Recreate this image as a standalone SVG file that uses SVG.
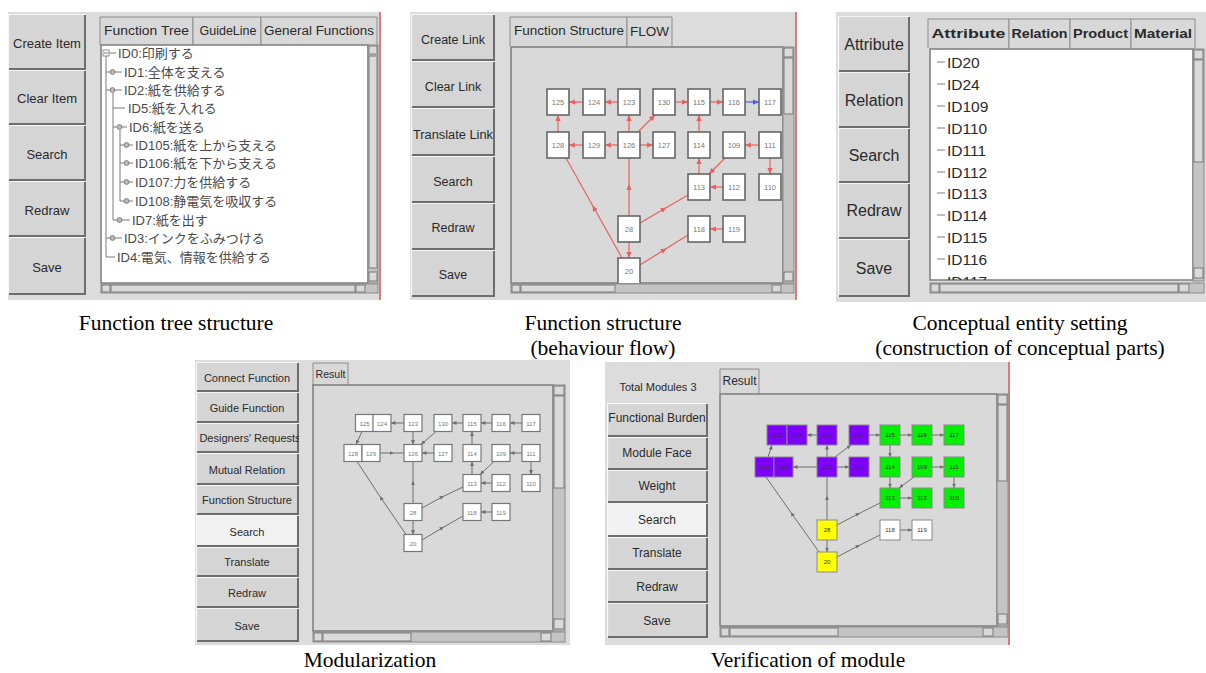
<svg xmlns="http://www.w3.org/2000/svg" width="1206" height="673" viewBox="0 0 1206 673">
<defs>
<style>
.pbg{fill:#dcdcdc}
.bf{fill:#d5d5d5}
.on{fill:#f1f1f1}
.bh{fill:none;stroke:#f7f7f7;stroke-width:1.2}
.bs{fill:none;stroke:#6d6d6d;stroke-width:2}
.tb{fill:#d8d8d8;stroke:#8c8c8c;stroke-width:1}
.area{fill:#d9d9d9;stroke:#7c7c7c;stroke-width:1.5}
.wh{fill:#ffffff;stroke:#7c7c7c;stroke-width:1.5}
.sb{fill:#c4c4c4;stroke:#8a8a8a;stroke-width:1}
.th{fill:#dadada;stroke:#7a7a7a;stroke-width:1}
.red{stroke:#e07a7a;stroke-width:2}
.ui{font-family:"Liberation Sans","DejaVu Sans",Arial,sans-serif;fill:#2a2a2a;text-anchor:middle}
.b1{font-size:13px}
.b2{font-size:12.5px}
.b3{font-size:16px}
.b4{font-size:11px}
.b5{font-size:12px}
.jp{font-family:"Liberation Sans","Noto Sans CJK JP",sans-serif;font-size:13px;fill:#4a4a4a}
.li{font-family:"Liberation Sans","DejaVu Sans",Arial,sans-serif;font-size:15.5px;fill:#2a2a2a}
.tl{fill:none;stroke:#7a7a7a;stroke-width:1}
.ic{fill:#bdbdbd;stroke:#6a6a6a;stroke-width:0.8}
.cap{font-family:"Liberation Serif","Times New Roman",serif;font-size:21.5px;fill:#000;text-anchor:middle}
.n2 rect{fill:#fff;stroke:#666;stroke-width:1.6}
.n2 text{font-family:"Liberation Sans",sans-serif;font-size:7.5px;fill:#777;text-anchor:middle}
.n4 rect{fill:#fff;stroke:#777;stroke-width:1.2}
.n4 text{font-family:"Liberation Sans",sans-serif;font-size:6px;fill:#777;text-anchor:middle}
.n5 rect{stroke:#8a8a8a;stroke-width:1}
.n5 text{font-family:"Liberation Sans",sans-serif;font-size:6px;fill:#333;text-anchor:middle}
.pu rect{fill:#7f00ff}
.gr rect{fill:#00f000}
.ye rect{fill:#ffff00}
.wt rect{fill:#ffffff}
.er{fill:none;stroke:#e86060;stroke-width:1.2;marker-end:url(#mr)}
.erm{fill:none;stroke:#e86060;stroke-width:1.2;marker-mid:url(#mrm)}
.eb{fill:none;stroke:#4a5cf0;stroke-width:1.2;marker-end:url(#mb)}
.eg{fill:none;stroke:#6e6e6e;stroke-width:1;marker-end:url(#mg)}
.egm{fill:none;stroke:#6e6e6e;stroke-width:1;marker-mid:url(#mgm)}
</style>
<marker id="mr" viewBox="0 0 8 8" refX="8" refY="4" markerWidth="6" markerHeight="6" markerUnits="userSpaceOnUse" orient="auto"><path d="M0,0.5 L8,4 L0,7.5 z" fill="#e86060"/></marker>
<marker id="mrm" viewBox="0 0 8 8" refX="4" refY="4" markerWidth="6" markerHeight="6" markerUnits="userSpaceOnUse" orient="auto"><path d="M0,0.5 L8,4 L0,7.5 z" fill="#e86060"/></marker>
<marker id="mb" viewBox="0 0 8 8" refX="8" refY="4" markerWidth="6" markerHeight="6" markerUnits="userSpaceOnUse" orient="auto"><path d="M0,0.5 L8,4 L0,7.5 z" fill="#4a5cf0"/></marker>
<marker id="mg" viewBox="0 0 8 8" refX="8" refY="4" markerWidth="4.5" markerHeight="4.5" markerUnits="userSpaceOnUse" orient="auto"><path d="M0,0.5 L8,4 L0,7.5 z" fill="#6e6e6e"/></marker>
<marker id="mgm" viewBox="0 0 8 8" refX="4" refY="4" markerWidth="4.5" markerHeight="4.5" markerUnits="userSpaceOnUse" orient="auto"><path d="M0,0.5 L8,4 L0,7.5 z" fill="#6e6e6e"/></marker>
<clipPath id="c1"><rect x="101" y="45" width="267" height="238"/></clipPath>
<clipPath id="c2"><rect x="511" y="47" width="272" height="236"/></clipPath>
<clipPath id="c3"><rect x="930" y="49" width="263" height="231"/></clipPath>
<clipPath id="c4"><rect x="196" y="362" width="103" height="280"/></clipPath>
</defs>
<rect width="1206" height="673" fill="#ffffff"/>

<!-- ============ Panel 1 : Function tree ============ -->
<g id="panel-function-tree">
<rect class="pbg" x="8" y="12" width="372" height="288"/>
<line class="red" x1="380" y1="12" x2="380" y2="300"/>
<g id="p1-btn-create"><rect class="bf" x="8" y="14" width="78" height="56"/><path class="bh" d="M8.5,69.5V14.5H85.5"/><path class="bs" d="M9,69H85V15"/><text class="ui b1" x="47" y="48">Create Item</text></g>
<g id="p1-btn-clear"><rect class="bf" x="8" y="70" width="78" height="55"/><path class="bh" d="M8.5,124.5V70.5H85.5"/><path class="bs" d="M9,124H85V71"/><text class="ui b1" x="47" y="103">Clear Item</text></g>
<g id="p1-btn-search"><rect class="bf" x="8" y="125" width="78" height="56"/><path class="bh" d="M8.5,180.5V125.5H85.5"/><path class="bs" d="M9,180H85V126"/><text class="ui b1" x="47" y="159">Search</text></g>
<g id="p1-btn-redraw"><rect class="bf" x="8" y="181" width="78" height="56"/><path class="bh" d="M8.5,236.5V181.5H85.5"/><path class="bs" d="M9,236H85V182"/><text class="ui b1" x="47" y="215">Redraw</text></g>
<g id="p1-btn-save"><rect class="bf" x="8" y="237" width="78" height="58"/><path class="bh" d="M8.5,294.5V237.5H85.5"/><path class="bs" d="M9,294H85V238"/><text class="ui b1" x="47" y="272">Save</text></g>
<g id="p1-tabs">
<path class="tb" d="M100,45V17H193V45"/><text class="ui b5" x="146.5" y="35" textLength="85" lengthAdjust="spacingAndGlyphs">Function Tree</text>
<path class="tb" d="M193,45V17H261V45"/><text class="ui b5" x="228" y="35" textLength="57" lengthAdjust="spacingAndGlyphs">GuideLine</text>
<path class="tb" d="M261,45V17H377V45"/><text class="ui b5" x="319" y="35" textLength="110" lengthAdjust="spacingAndGlyphs">General Functions</text>
</g>
<rect class="wh" x="101" y="45" width="267" height="238"/>
<g id="p1-tree" clip-path="url(#c1)">
<rect x="103" y="50" width="6" height="6" fill="#fff" stroke="#777" stroke-width="0.8"/><line class="tl" x1="104" y1="53" x2="108" y2="53"/>
<path class="tl" d="M109,53H116 M106,56V257 M106,72H110 M115,72H122 M106,90H110 M115,90H122 M113,93V220 M113,108H125 M113,127H117 M122,127H127 M120,130V201 M120,145H124 M129,145H133 M120,163H124 M129,163H133 M120,182H124 M129,182H133 M120,201H124 M129,201H133 M113,220H117 M122,220H130 M106,238H110 M115,238H122 M106,257H115"/>
<circle class="ic" cx="112.5" cy="72" r="2.4"/><circle class="ic" cx="112.5" cy="90" r="2.4"/><circle class="ic" cx="119.5" cy="127" r="2.4"/>
<circle class="ic" cx="126.5" cy="145" r="2.4"/><circle class="ic" cx="126.5" cy="163" r="2.4"/><circle class="ic" cx="126.5" cy="182" r="2.4"/><circle class="ic" cx="126.5" cy="201" r="2.4"/>
<circle class="ic" cx="119.5" cy="220" r="2.4"/><circle class="ic" cx="112.5" cy="238" r="2.4"/>
<text class="jp" x="118" y="57.5">ID0:印刷する</text>
<text class="jp" x="124" y="76.5">ID1:全体を支える</text>
<text class="jp" x="124" y="94.5">ID2:紙を供給する</text>
<text class="jp" x="128" y="112.5">ID5:紙を入れる</text>
<text class="jp" x="129" y="131.5">ID6:紙を送る</text>
<text class="jp" x="135" y="149.5">ID105:紙を上から支える</text>
<text class="jp" x="135" y="167.5">ID106:紙を下から支える</text>
<text class="jp" x="135" y="186.5">ID107:力を供給する</text>
<text class="jp" x="135" y="205.5">ID108:静電気を吸収する</text>
<text class="jp" x="132" y="224.5">ID7:紙を出す</text>
<text class="jp" x="124" y="242.5">ID3:インクをふみつける</text>
<text class="jp" x="117" y="261.5">ID4:電気、情報を供給する</text>
</g>
<g id="p1-scroll">
<rect class="sb" x="368" y="45" width="10" height="238"/><rect class="th" x="369" y="46" width="8" height="8"/><rect class="th" x="369" y="56" width="8" height="212"/><rect class="th" x="369" y="272" width="8" height="9"/>
<rect class="sb" x="101" y="284" width="277" height="9"/><rect class="th" x="102" y="285" width="8" height="7"/><rect class="th" x="111" y="285" width="244" height="7"/><rect class="th" x="356" y="285" width="9" height="7"/>
</g>
</g>

<!-- ============ Panel 2 : Function structure ============ -->
<g id="panel-function-structure">
<rect class="pbg" x="410" y="12" width="386" height="288"/>
<line class="red" x1="796" y1="12" x2="796" y2="300"/>
<g id="p2-btn-create"><rect class="bf" x="411" y="14" width="84" height="47"/><path class="bh" d="M411.5,60.5V14.5H494.5"/><path class="bs" d="M412,60H494V15"/><text class="ui b2" x="453" y="44">Create Link</text></g>
<g id="p2-btn-clear"><rect class="bf" x="411" y="61" width="84" height="47"/><path class="bh" d="M411.5,107.5V61.5H494.5"/><path class="bs" d="M412,107H494V62"/><text class="ui b2" x="453" y="91">Clear Link</text></g>
<g id="p2-btn-translate"><rect class="bf" x="411" y="108" width="84" height="48"/><path class="bh" d="M411.5,155.5V108.5H494.5"/><path class="bs" d="M412,155H494V109"/><text class="ui b2" x="453" y="139" textLength="80" lengthAdjust="spacingAndGlyphs">Translate Link</text></g>
<g id="p2-btn-search"><rect class="bf" x="411" y="156" width="84" height="47"/><path class="bh" d="M411.5,202.5V156.5H494.5"/><path class="bs" d="M412,202H494V157"/><text class="ui b2" x="453" y="186">Search</text></g>
<g id="p2-btn-redraw"><rect class="bf" x="411" y="203" width="84" height="47"/><path class="bh" d="M411.5,249.5V203.5H494.5"/><path class="bs" d="M412,249H494V204"/><text class="ui b2" x="453" y="232">Redraw</text></g>
<g id="p2-btn-save"><rect class="bf" x="411" y="250" width="84" height="47"/><path class="bh" d="M411.5,296.5V250.5H494.5"/><path class="bs" d="M412,296H494V251"/><text class="ui b2" x="453" y="279">Save</text></g>
<g id="p2-tabs">
<path class="tb" d="M510,46V17H627V46"/><text class="ui b5" x="569" y="35" textLength="110" lengthAdjust="spacingAndGlyphs">Function Structure</text>
<path class="tb" d="M627,46V17H672V46"/><text class="ui" x="649.5" y="36" font-size="13.5" textLength="39" lengthAdjust="spacingAndGlyphs">FLOW</text>
</g>
<rect class="area" x="511" y="47" width="272" height="236"/>
<g clip-path="url(#c2)">
<g id="p2-connectors">
<path class="er" d="M583,102L569,102"/>
<path class="er" d="M618,102L605,102"/>
<path class="er" d="M675,102L688,102"/>
<path class="er" d="M710,102L723,102"/>
<path class="eb" d="M745,102L759,102"/>
<path class="er" d="M558,132L558,115"/>
<path class="er" d="M583,145L569,145"/>
<path class="er" d="M618,145L605,145"/>
<path class="er" d="M640,145L653,145"/>
<path class="er" d="M629,132L629,115"/>
<path class="er" d="M638,132L655,115"/>
<path class="er" d="M699,132L699,115"/>
<path class="er" d="M759,145L745,145"/>
<path class="er" d="M770,158L770,174"/>
<path class="er" d="M699,174L699,158"/>
<path class="er" d="M725,158L709,174"/>
<path class="er" d="M723,187L710,187"/>
<path class="erm" d="M629,216L629,187L629,158"/>
<path class="erm" d="M640,223L664,209L688,195"/>
<path class="er" d="M629,242L629,258"/>
<path class="erm" d="M640,265L664,250L688,235"/>
<path class="er" d="M723,229L710,229"/>
<path class="erm" d="M622,258L594,208L566,158"/>
</g>
<g id="p2-n125" class="n2"><rect x="547" y="89" width="22" height="26"/><text x="558" y="105">125</text></g>
<g id="p2-n124" class="n2"><rect x="583" y="89" width="22" height="26"/><text x="594" y="105">124</text></g>
<g id="p2-n123" class="n2"><rect x="618" y="89" width="22" height="26"/><text x="629" y="105">123</text></g>
<g id="p2-n130" class="n2"><rect x="653" y="89" width="22" height="26"/><text x="664" y="105">130</text></g>
<g id="p2-n115" class="n2"><rect x="688" y="89" width="22" height="26"/><text x="699" y="105">115</text></g>
<g id="p2-n116" class="n2"><rect x="723" y="89" width="22" height="26"/><text x="734" y="105">116</text></g>
<g id="p2-n117" class="n2"><rect x="759" y="89" width="22" height="26"/><text x="770" y="105">117</text></g>
<g id="p2-n128" class="n2"><rect x="547" y="132" width="22" height="26"/><text x="558" y="148">128</text></g>
<g id="p2-n129" class="n2"><rect x="583" y="132" width="22" height="26"/><text x="594" y="148">129</text></g>
<g id="p2-n126" class="n2"><rect x="618" y="132" width="22" height="26"/><text x="629" y="148">126</text></g>
<g id="p2-n127" class="n2"><rect x="653" y="132" width="22" height="26"/><text x="664" y="148">127</text></g>
<g id="p2-n114" class="n2"><rect x="688" y="132" width="22" height="26"/><text x="699" y="148">114</text></g>
<g id="p2-n109" class="n2"><rect x="723" y="132" width="22" height="26"/><text x="734" y="148">109</text></g>
<g id="p2-n111" class="n2"><rect x="759" y="132" width="22" height="26"/><text x="770" y="148">111</text></g>
<g id="p2-n113" class="n2"><rect x="688" y="174" width="22" height="26"/><text x="699" y="190">113</text></g>
<g id="p2-n112" class="n2"><rect x="723" y="174" width="22" height="26"/><text x="734" y="190">112</text></g>
<g id="p2-n110" class="n2"><rect x="759" y="174" width="22" height="26"/><text x="770" y="190">110</text></g>
<g id="p2-n28" class="n2"><rect x="618" y="216" width="22" height="26"/><text x="629" y="232">28</text></g>
<g id="p2-n118" class="n2"><rect x="688" y="216" width="22" height="26"/><text x="699" y="232">118</text></g>
<g id="p2-n119" class="n2"><rect x="723" y="216" width="22" height="26"/><text x="734" y="232">119</text></g>
<g id="p2-n20" class="n2"><rect x="618" y="258" width="22" height="26"/><text x="629" y="274">20</text></g>
</g>
<g id="p2-scroll">
<rect class="sb" x="783" y="47" width="11" height="236"/><rect class="th" x="784" y="48" width="9" height="9"/><rect class="th" x="784" y="58" width="9" height="56"/><rect class="th" x="784" y="272" width="9" height="9"/>
<rect class="sb" x="511" y="284" width="283" height="9"/><rect class="th" x="512" y="285" width="8" height="7"/><rect class="th" x="521" y="285" width="94" height="7"/><rect class="th" x="772" y="285" width="9" height="7"/>
</g>
</g>

<!-- ============ Panel 3 : Conceptual entity ============ -->
<g id="panel-conceptual-entity">
<rect class="pbg" x="836" y="12" width="370" height="290"/>
<g id="p3-btn-attribute"><rect class="bf" x="838" y="16" width="72" height="56"/><path class="bh" d="M838.5,71.5V16.5H909.5"/><path class="bs" d="M839,71H909V17"/><text class="ui b3" x="874" y="50">Attribute</text></g>
<g id="p3-btn-relation"><rect class="bf" x="838" y="72" width="72" height="56"/><path class="bh" d="M838.5,127.5V72.5H909.5"/><path class="bs" d="M839,127H909V73"/><text class="ui b3" x="874" y="106">Relation</text></g>
<g id="p3-btn-search"><rect class="bf" x="838" y="128" width="72" height="55"/><path class="bh" d="M838.5,182.5V128.5H909.5"/><path class="bs" d="M839,182H909V129"/><text class="ui b3" x="874" y="161">Search</text></g>
<g id="p3-btn-redraw"><rect class="bf" x="838" y="183" width="72" height="56"/><path class="bh" d="M838.5,238.5V183.5H909.5"/><path class="bs" d="M839,238H909V184"/><text class="ui b3" x="874" y="216">Redraw</text></g>
<g id="p3-btn-save"><rect class="bf" x="838" y="239" width="72" height="58"/><path class="bh" d="M838.5,296.5V239.5H909.5"/><path class="bs" d="M839,296H909V240"/><text class="ui b3" x="874" y="274">Save</text></g>
<g id="p3-tabs" font-weight="bold">
<path class="tb" d="M928,48V19H1009V48"/><text class="ui" x="968.5" y="38" font-size="13" textLength="74" lengthAdjust="spacingAndGlyphs">Attribute</text>
<path class="tb" d="M1009,48V19H1070V48"/><text class="ui" x="1039.5" y="38" font-size="13" textLength="56" lengthAdjust="spacingAndGlyphs">Relation</text>
<path class="tb" d="M1070,48V19H1131V48"/><text class="ui" x="1100.5" y="38" font-size="13" textLength="55" lengthAdjust="spacingAndGlyphs">Product</text>
<path class="tb" d="M1131,48V19H1195V48"/><text class="ui" x="1163" y="38" font-size="13" textLength="58" lengthAdjust="spacingAndGlyphs">Material</text>
</g>
<rect class="wh" x="930" y="49" width="263" height="231"/>
<g id="p3-list" clip-path="url(#c3)">
<path class="tl" d="M937,62H945 M937,84H945 M937,106H945 M937,128H945 M937,150H945 M937,172H945 M937,193H945 M937,215H945 M937,237H945 M937,259H945 M937,281H945"/>
<text class="li" x="947" y="67.5">ID20</text>
<text class="li" x="947" y="89.5">ID24</text>
<text class="li" x="947" y="111.5">ID109</text>
<text class="li" x="947" y="133.5">ID110</text>
<text class="li" x="947" y="155.5">ID111</text>
<text class="li" x="947" y="177.5">ID112</text>
<text class="li" x="947" y="198.5">ID113</text>
<text class="li" x="947" y="220.5">ID114</text>
<text class="li" x="947" y="242.5">ID115</text>
<text class="li" x="947" y="264.5">ID116</text>
<text class="li" x="947" y="286.5">ID117</text>
</g>
<g id="p3-scroll">
<rect class="sb" x="1193" y="49" width="11" height="232"/><rect class="th" x="1194" y="50" width="9" height="9"/><rect class="th" x="1194" y="60" width="9" height="102"/><rect class="th" x="1194" y="268" width="9" height="10"/>
<rect class="sb" x="930" y="283" width="274" height="10"/><rect class="th" x="931" y="284" width="8" height="8"/><rect class="th" x="940" y="284" width="238" height="8"/><rect class="th" x="1179" y="284" width="10" height="8"/>
</g>
</g>

<!-- ============ Panel 4 : Modularization ============ -->
<g id="panel-modularization">
<rect class="pbg" x="195" y="360" width="375" height="285"/>
<g clip-path="url(#c4)">
<g id="p4-btn-connect"><rect class="bf" x="196" y="362" width="103" height="30"/><path class="bh" d="M196.5,391.5V362.5H298.5"/><path class="bs" d="M197,391H298V363"/><text class="ui b4" x="247" y="382">Connect Function</text></g>
<g id="p4-btn-guide"><rect class="bf" x="196" y="392" width="103" height="31"/><path class="bh" d="M196.5,422.5V392.5H298.5"/><path class="bs" d="M197,422H298V393"/><text class="ui b4" x="247" y="412">Guide Function</text></g>
<g id="p4-btn-designers"><rect class="bf" x="196" y="423" width="103" height="30"/><path class="bh" d="M196.5,452.5V423.5H298.5"/><path class="bs" d="M197,452H298V424"/><text class="ui b4" x="250" y="442">Designers' Requests</text></g>
<g id="p4-btn-mutual"><rect class="bf" x="196" y="453" width="103" height="32"/><path class="bh" d="M196.5,484.5V453.5H298.5"/><path class="bs" d="M197,484H298V454"/><text class="ui b4" x="247" y="474">Mutual Relation</text></g>
<g id="p4-btn-fs"><rect class="bf" x="196" y="485" width="103" height="30"/><path class="bh" d="M196.5,514.5V485.5H298.5"/><path class="bs" d="M197,514H298V486"/><text class="ui b4" x="247" y="504">Function Structure</text></g>
<g id="p4-btn-search"><rect class="on" x="196" y="515" width="103" height="32"/><path class="bh" d="M196.5,546.5V515.5H298.5"/><path class="bs" d="M197,546H298V516"/><text class="ui b4" x="247" y="536">Search</text></g>
<g id="p4-btn-translate"><rect class="bf" x="196" y="547" width="103" height="30"/><path class="bh" d="M196.5,576.5V547.5H298.5"/><path class="bs" d="M197,576H298V548"/><text class="ui b4" x="247" y="566">Translate</text></g>
<g id="p4-btn-redraw"><rect class="bf" x="196" y="577" width="103" height="31"/><path class="bh" d="M196.5,607.5V577.5H298.5"/><path class="bs" d="M197,607H298V578"/><text class="ui b4" x="247" y="597">Redraw</text></g>
<g id="p4-btn-save"><rect class="bf" x="196" y="608" width="103" height="34"/><path class="bh" d="M196.5,641.5V608.5H298.5"/><path class="bs" d="M197,641H298V609"/><text class="ui b4" x="247" y="630">Save</text></g>
</g>
<g id="p4-tab"><path class="tb" d="M313,385V363H348V385"/><text class="ui" x="330.5" y="378" font-size="10.5" textLength="30" lengthAdjust="spacingAndGlyphs">Result</text></g>
<rect class="area" x="313" y="385" width="240" height="246"/>
<g id="p4-connectors">
<path class="eg" d="M404,423L391,423"/>
<path class="eg" d="M413,431.5L413,444.5"/>
<path class="eg" d="M436,431.5L421,444.5"/>
<path class="eg" d="M463,423L452,423"/>
<path class="eg" d="M492,423L481,423"/>
<path class="eg" d="M522,423L510,423"/>
<path class="eg" d="M362,431.5L356,444.5"/>
<path class="egm" d="M380,453L392,453L404,453"/>
<path class="eg" d="M434,453L422,453"/>
<path class="eg" d="M472,444.5L472,431.5"/>
<path class="eg" d="M522,453L510,453"/>
<path class="eg" d="M531,461.5L531,474.5"/>
<path class="eg" d="M472,474.5L472,461.5"/>
<path class="eg" d="M494,461.5L480,474.5"/>
<path class="eg" d="M492,483L481,483"/>
<path class="egm" d="M413,503.5L413,483L413,461.5"/>
<path class="egm" d="M422,508L442,497L463,487"/>
<path class="eg" d="M413,520.5L413,534.5"/>
<path class="egm" d="M422,540L442,528L463,516"/>
<path class="eg" d="M492,512L481,512"/>
<path class="egm" d="M406,534.5L381,498L357,461.5"/>
</g>
<g id="p4-n125" class="n4"><rect x="355.5" y="414.5" width="18" height="17"/><text x="364.5" y="425.5">125</text></g>
<g id="p4-n124" class="n4"><rect x="373" y="414.5" width="18" height="17"/><text x="382" y="425.5">124</text></g>
<g id="p4-n123" class="n4"><rect x="404" y="414.5" width="18" height="17"/><text x="413" y="425.5">123</text></g>
<g id="p4-n130" class="n4"><rect x="434" y="414.5" width="18" height="17"/><text x="443" y="425.5">130</text></g>
<g id="p4-n115" class="n4"><rect x="463" y="414.5" width="18" height="17"/><text x="472" y="425.5">115</text></g>
<g id="p4-n116" class="n4"><rect x="492" y="414.5" width="18" height="17"/><text x="501" y="425.5">116</text></g>
<g id="p4-n117" class="n4"><rect x="522" y="414.5" width="18" height="17"/><text x="531" y="425.5">117</text></g>
<g id="p4-n128" class="n4"><rect x="344" y="444.5" width="18" height="17"/><text x="353" y="455.5">128</text></g>
<g id="p4-n129" class="n4"><rect x="362" y="444.5" width="18" height="17"/><text x="371" y="455.5">129</text></g>
<g id="p4-n126" class="n4"><rect x="404" y="444.5" width="18" height="17"/><text x="413" y="455.5">126</text></g>
<g id="p4-n127" class="n4"><rect x="434" y="444.5" width="18" height="17"/><text x="443" y="455.5">127</text></g>
<g id="p4-n114" class="n4"><rect x="463" y="444.5" width="18" height="17"/><text x="472" y="455.5">114</text></g>
<g id="p4-n109" class="n4"><rect x="492" y="444.5" width="18" height="17"/><text x="501" y="455.5">109</text></g>
<g id="p4-n111" class="n4"><rect x="522" y="444.5" width="18" height="17"/><text x="531" y="455.5">111</text></g>
<g id="p4-n113" class="n4"><rect x="463" y="474.5" width="18" height="17"/><text x="472" y="485.5">113</text></g>
<g id="p4-n112" class="n4"><rect x="492" y="474.5" width="18" height="17"/><text x="501" y="485.5">112</text></g>
<g id="p4-n110" class="n4"><rect x="522" y="474.5" width="18" height="17"/><text x="531" y="485.5">110</text></g>
<g id="p4-n28" class="n4"><rect x="404" y="503.5" width="18" height="17"/><text x="413" y="514.5">28</text></g>
<g id="p4-n118" class="n4"><rect x="463" y="503.5" width="18" height="17"/><text x="472" y="514.5">118</text></g>
<g id="p4-n119" class="n4"><rect x="492" y="503.5" width="18" height="17"/><text x="501" y="514.5">119</text></g>
<g id="p4-n20" class="n4"><rect x="404" y="534.5" width="18" height="17"/><text x="413" y="545.5">20</text></g>
<g id="p4-scroll">
<rect class="sb" x="553" y="385" width="12" height="246"/><rect class="th" x="554" y="386" width="10" height="9"/><rect class="th" x="554" y="396" width="10" height="92"/><rect class="th" x="554" y="619" width="10" height="10"/>
<rect class="sb" x="313" y="632" width="252" height="10"/><rect class="th" x="314" y="633" width="8" height="8"/><rect class="th" x="323" y="633" width="88" height="8"/><rect class="th" x="541" y="633" width="10" height="8"/>
</g>
</g>

<!-- ============ Panel 5 : Verification of module ============ -->
<g id="panel-verification">
<rect class="pbg" x="605" y="362" width="404" height="283"/>
<line class="red" x1="1009" y1="362" x2="1009" y2="645"/>
<text class="ui" x="658" y="391" font-size="11">Total Modules 3</text>
<g id="p5-btn-burden"><rect class="bf" x="607" y="403" width="101" height="34"/><path class="bh" d="M607.5,436.5V403.5H707.5"/><path class="bs" d="M608,436H707V404"/><text class="ui b5" x="657" y="422">Functional Burden</text></g>
<g id="p5-btn-face"><rect class="bf" x="607" y="437" width="101" height="33"/><path class="bh" d="M607.5,469.5V437.5H707.5"/><path class="bs" d="M608,469H707V438"/><text class="ui b5" x="657" y="457">Module Face</text></g>
<g id="p5-btn-weight"><rect class="bf" x="607" y="470" width="101" height="33"/><path class="bh" d="M607.5,502.5V470.5H707.5"/><path class="bs" d="M608,502H707V471"/><text class="ui b5" x="657" y="490">Weight</text></g>
<g id="p5-btn-search"><rect class="on" x="607" y="503" width="101" height="34"/><path class="bh" d="M607.5,536.5V503.5H707.5"/><path class="bs" d="M608,536H707V504"/><text class="ui b5" x="657" y="524">Search</text></g>
<g id="p5-btn-translate"><rect class="bf" x="607" y="537" width="101" height="33"/><path class="bh" d="M607.5,569.5V537.5H707.5"/><path class="bs" d="M608,569H707V538"/><text class="ui b5" x="657" y="557">Translate</text></g>
<g id="p5-btn-redraw"><rect class="bf" x="607" y="570" width="101" height="33"/><path class="bh" d="M607.5,602.5V570.5H707.5"/><path class="bs" d="M608,602H707V571"/><text class="ui b5" x="657" y="591">Redraw</text></g>
<g id="p5-btn-save"><rect class="bf" x="607" y="603" width="101" height="35"/><path class="bh" d="M607.5,637.5V603.5H707.5"/><path class="bs" d="M608,637H707V604"/><text class="ui b5" x="657" y="625">Save</text></g>
<g id="p5-tab"><path class="tb" d="M720,394V369H759V394"/><text class="ui" x="739.5" y="385" font-size="12" textLength="34" lengthAdjust="spacingAndGlyphs">Result</text></g>
<rect class="area" x="720" y="394" width="277" height="232"/>
<g id="p5-connectors">
<path class="eg" d="M817,435L807,435"/>
<path class="eg" d="M827,457L827,445"/>
<path class="eg" d="M835,457L851,445"/>
<path class="eg" d="M869,435L880,435"/>
<path class="eg" d="M900,435L912,435"/>
<path class="eg" d="M932,435L944,435"/>
<path class="eg" d="M768,457L772,445"/>
<path class="eg" d="M817,467L793,467"/>
<path class="eg" d="M837,467L849,467"/>
<path class="eg" d="M890,445L890,457"/>
<path class="eg" d="M890,477L890,488"/>
<path class="eg" d="M914,477L899,488"/>
<path class="eg" d="M932,467L944,467"/>
<path class="eg" d="M954,477L954,488"/>
<path class="eg" d="M900,498L912,498"/>
<path class="egm" d="M827,520L827,498L827,477"/>
<path class="egm" d="M837,525L858,514L880,503"/>
<path class="eg" d="M827,540L827,552"/>
<path class="egm" d="M837,557L858,546L880,535"/>
<path class="eg" d="M900,530L912,530"/>
<path class="egm" d="M819,552L792,514L766,477"/>
</g>
<g id="p5-n125" class="n5 pu"><rect x="767" y="425" width="20" height="20"/><text x="777" y="437">125</text></g>
<g id="p5-n124" class="n5 pu"><rect x="787" y="425" width="20" height="20"/><text x="797" y="437">124</text></g>
<g id="p5-n123" class="n5 pu"><rect x="817" y="425" width="20" height="20"/><text x="827" y="437">123</text></g>
<g id="p5-n130" class="n5 pu"><rect x="849" y="425" width="20" height="20"/><text x="859" y="437">130</text></g>
<g id="p5-n115" class="n5 gr"><rect x="880" y="425" width="20" height="20"/><text x="890" y="437">115</text></g>
<g id="p5-n116" class="n5 gr"><rect x="912" y="425" width="20" height="20"/><text x="922" y="437">116</text></g>
<g id="p5-n117" class="n5 gr"><rect x="944" y="425" width="20" height="20"/><text x="954" y="437">117</text></g>
<g id="p5-n128" class="n5 pu"><rect x="755" y="457" width="19" height="20"/><text x="764.5" y="469">128</text></g>
<g id="p5-n129" class="n5 pu"><rect x="774" y="457" width="19" height="20"/><text x="783.5" y="469">129</text></g>
<g id="p5-n126" class="n5 pu"><rect x="817" y="457" width="20" height="20"/><text x="827" y="469">126</text></g>
<g id="p5-n127" class="n5 pu"><rect x="849" y="457" width="20" height="20"/><text x="859" y="469">127</text></g>
<g id="p5-n114" class="n5 gr"><rect x="880" y="457" width="20" height="20"/><text x="890" y="469">114</text></g>
<g id="p5-n109" class="n5 gr"><rect x="912" y="457" width="20" height="20"/><text x="922" y="469">109</text></g>
<g id="p5-n111" class="n5 gr"><rect x="944" y="457" width="20" height="20"/><text x="954" y="469">111</text></g>
<g id="p5-n113" class="n5 gr"><rect x="880" y="488" width="20" height="20"/><text x="890" y="500">113</text></g>
<g id="p5-n112" class="n5 gr"><rect x="912" y="488" width="20" height="20"/><text x="922" y="500">112</text></g>
<g id="p5-n110" class="n5 gr"><rect x="944" y="488" width="20" height="20"/><text x="954" y="500">110</text></g>
<g id="p5-n28" class="n5 ye"><rect x="817" y="520" width="20" height="20"/><text x="827" y="532">28</text></g>
<g id="p5-n118" class="n5 wt"><rect x="880" y="520" width="20" height="20"/><text x="890" y="532">118</text></g>
<g id="p5-n119" class="n5 wt"><rect x="912" y="520" width="20" height="20"/><text x="922" y="532">119</text></g>
<g id="p5-n20" class="n5 ye"><rect x="817" y="552" width="20" height="20"/><text x="827" y="564">20</text></g>
<g id="p5-scroll">
<rect class="sb" x="997" y="394" width="11" height="232"/><rect class="th" x="998" y="395" width="9" height="9"/><rect class="th" x="998" y="405" width="9" height="76"/><rect class="th" x="998" y="614" width="9" height="10"/>
<rect class="sb" x="720" y="627" width="288" height="10"/><rect class="th" x="721" y="628" width="8" height="8"/><rect class="th" x="730" y="628" width="108" height="8"/><rect class="th" x="983" y="628" width="10" height="8"/>
</g>
</g>

<!-- ============ Captions ============ -->
<g id="captions">
<text class="cap" x="176" y="330">Function tree structure</text>
<text class="cap" x="603" y="330">Function structure</text>
<text class="cap" x="603" y="355">(behaviour flow)</text>
<text class="cap" x="1020" y="330">Conceptual entity setting</text>
<text class="cap" x="1020" y="355">(construction of conceptual parts)</text>
<text class="cap" x="370" y="667">Modularization</text>
<text class="cap" x="808" y="667">Verification of module</text>
</g>
</svg>
